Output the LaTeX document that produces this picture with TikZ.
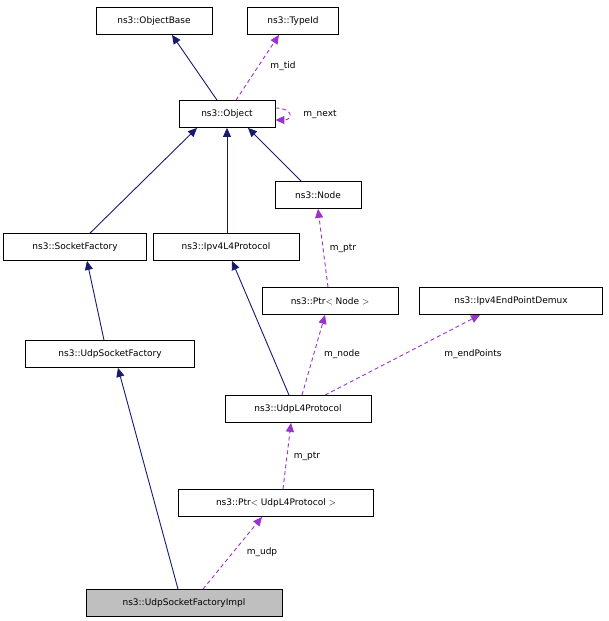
\documentclass[tikz,border=0pt]{standalone}
\usepackage{fontspec}
\setmainfont{DejaVu Sans}
\usetikzlibrary{arrows.meta}
\begin{document}
\begin{tikzpicture}[x=1pt,y=-1pt,
  box/.style={draw=black,fill=white,minimum height=27pt,inner sep=0pt,font=\fontsize{9}{10}\selectfont,line width=0.8pt},
  inh/.style={draw={rgb,255:red,25;green,25;blue,112},line width=0.9pt,-{Triangle[length=9pt,width=8pt]}},
  use/.style={draw={rgb,255:red,154;green,50;blue,205},line width=0.9pt,dash pattern=on 4pt off 3pt,-{Triangle[length=9pt,width=8pt]}},
  lab/.style={font=\fontsize{9}{10}\selectfont}]
\useasboundingbox (0,0) rectangle (608,621);
\node[box,minimum width=116pt] (ob) at (154,21) {ns3::ObjectBase};
\node[box,minimum width=91pt] (tid) at (293,21) {ns3::TypeId};
\node[box,minimum width=96pt] (obj) at (227,114) {ns3::Object};
\node[box,minimum width=86pt] (node) at (318,195) {ns3::Node};
\node[box,minimum width=143pt] (sf) at (75,247) {ns3::SocketFactory};
\node[box,minimum width=146pt] (ip) at (226,247) {ns3::Ipv4L4Protocol};
\node[box,minimum width=136pt] (pn) at (330,301) {ns3::Ptr$<$ Node $>$};
\node[box,minimum width=183pt] (dm) at (511,301) {ns3::Ipv4EndPointDemux};
\node[box,minimum width=169pt] (usf) at (110,354) {ns3::UdpSocketFactory};
\node[box,minimum width=146pt] (udp) at (298,409) {ns3::UdpL4Protocol};
\node[box,minimum width=195pt] (pu) at (276,503) {ns3::Ptr$<$ UdpL4Protocol $>$};
\node[box,minimum width=196pt,fill={rgb,255:red,191;green,191;blue,191}] (impl) at (184,603) {ns3::UdpSocketFactoryImpl};

\draw[inh] ([xshift=-10pt]obj.north) -- ([xshift=18pt]ob.south);
\draw[use] ([xshift=9pt]obj.north) -- ([xshift=-14pt]tid.south);
\node[lab] (l1) at (283,66) {m\_tid};
\draw[use] ([yshift=6pt]obj.east) .. controls +(18,0) and +(18,0) .. ([yshift=-6pt]obj.east);
\node[lab] (l2) at (320,114) {m\_next};
\draw[inh] ([xshift=15pt]sf.north) -- ([xshift=-30pt]obj.south);
\draw[inh] (ip.north -| obj.south) -- (obj.south);
\draw[inh] ([xshift=-17pt]node.north) -- ([xshift=21pt]obj.south);
\draw[use] ([xshift=-2pt]pn.north) -- (node.south);
\node[lab] (l3) at (343,248) {m\_ptr};
\draw[inh] ([xshift=-6pt]usf.north) -- ([xshift=12pt]sf.south);
\draw[use] ([xshift=4pt]udp.north) -- ([xshift=-5pt]pn.south);
\node[lab] (l4) at (342,354) {m\_node};
\draw[inh] ([xshift=-9pt]udp.north) -- ([xshift=6pt]ip.south);
\draw[use] ([xshift=27pt]udp.north) -- ([xshift=-31pt]dm.south);
\node[lab] (l5) at (473,354) {m\_endPoints};
\draw[use] ([xshift=7pt]pu.north) -- ([xshift=-7pt]udp.south);
\node[lab] (l6) at (307,456) {m\_ptr};
\draw[inh] ([xshift=-6pt]impl.north) -- ([xshift=8pt]usf.south);
\draw[use] ([xshift=19pt]impl.north) -- ([xshift=-14pt]pu.south);
\node[lab] (l7) at (262,552) {m\_udp};
\end{tikzpicture}
\end{document}
